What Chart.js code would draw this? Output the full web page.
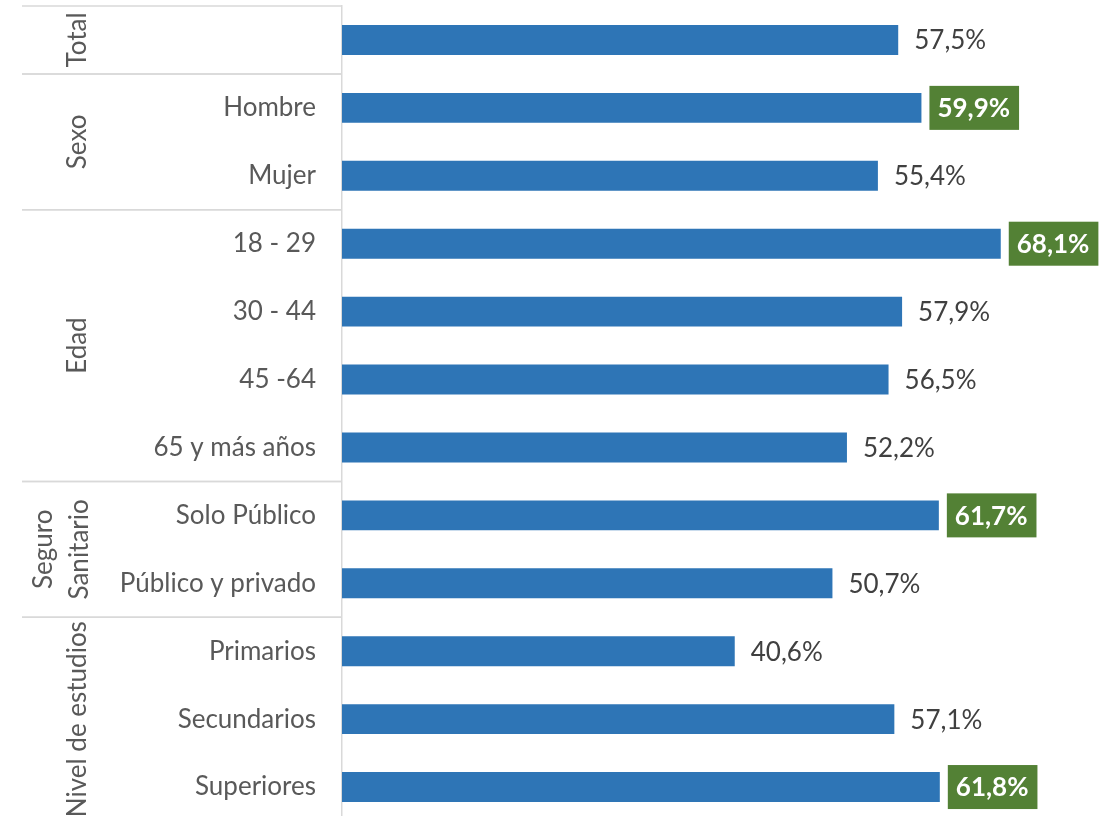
<!DOCTYPE html>
<html><head><meta charset="utf-8">
<script src="https://cdn.jsdelivr.net/npm/chart.js@4/dist/chart.umd.min.js"></script>
<style>html,body{margin:0;padding:0;overflow:hidden;background:#fff}canvas{display:block}</style>
</head><body>
<canvas id="c" width="1112" height="822"></canvas>
<script>
const categories = ["", "Hombre", "Mujer", "18 - 29", "30 - 44", "45 -64", "65 y más años", "Solo Público", "Público y privado", "Primarios", "Secundarios", "Superiores"];
const values = [57.5, 59.9, 55.4, 68.1, 57.9, 56.5, 52.2, 61.7, 50.7, 40.6, 57.1, 61.8];
const highlighted = [false, true, false, true, false, false, false, true, false, false, false, true];
const groupLabels = [["Total"], ["Sexo"], ["Edad"], ["Seguro", "Sanitario"], ["Nivel de estudios"]];
const groupStart = [0, 1, 3, 7, 9];
const groupEnd = [0, 2, 6, 8, 11];
const valueLabels = values.map(v => v.toFixed(1).replace('.', ',') + '%');

const FONT = 'Lato';
const grayLine = '#D9D9D9';

const groupPlugin = {
  id: 'groups',
  afterDraw(chart) {
    const ctx = chart.ctx;
    const ys = chart.scales.y;
    const area = chart.chartArea;
    const half = (ys.getPixelForValue(1) - ys.getPixelForValue(0)) / 2;
    ctx.save();
    ctx.strokeStyle = grayLine;
    ctx.lineWidth = 1.5;
    const lineX0 = 22, lineX1 = area.left;
    for (let g = 0; g < groupStart.length; g++) {
      const top = ys.getPixelForValue(groupStart[g]) - half;
      const bot = ys.getPixelForValue(groupEnd[g]) + half;
      ctx.beginPath(); ctx.moveTo(lineX0, top); ctx.lineTo(lineX1, top); ctx.stroke();
      ctx.beginPath(); ctx.moveTo(lineX0, bot); ctx.lineTo(lineX1, bot); ctx.stroke();
      const cy = (top + bot) / 2;
      const lines = groupLabels[g];
      ctx.save();
      ctx.font = `26px ${FONT}`;
      ctx.fillStyle = '#595959';
      ctx.textAlign = 'center';
      ctx.textBaseline = 'middle';
      lines.forEach((t, i) => {
        const x = (lines.length > 1) ? 44 + i * 36 : 78;
        ctx.save();
        ctx.translate(x, cy);
        ctx.rotate(-Math.PI / 2);
        ctx.fillText(t, 0, 0);
        ctx.restore();
      });
      ctx.restore();
    }
    ctx.restore();
  }
};

const labelPlugin = {
  id: 'vlabels',
  afterDatasetsDraw(chart) {
    const ctx = chart.ctx;
    const meta = chart.getDatasetMeta(0);
    ctx.save();
    ctx.textBaseline = 'middle';
    ctx.textAlign = 'left';
    meta.data.forEach((el, i) => {
      const x = el.x, y = el.y;
      const txt = valueLabels[i];
      if (highlighted[i]) {
        ctx.font = `bold 26px ${FONT}`;
        const w = ctx.measureText(txt).width;
        ctx.fillStyle = '#538135';
        ctx.fillRect(x + 8, y - 22, w + 17, 44);
        ctx.fillStyle = '#FFFFFF';
        ctx.fillText(txt, x + 16, y + 1);
      } else {
        ctx.font = `26px ${FONT}`;
        ctx.fillStyle = '#404040';
        ctx.fillText(txt, x + 16, y + 1);
      }
    });
    ctx.restore();
  }
};

new Chart(document.getElementById('c'), {
  type: 'bar',
  data: {
    labels: categories,
    datasets: [{
      data: values,
      backgroundColor: '#2E75B6',
      borderWidth: 0,
      categoryPercentage: 1.0,
      barPercentage: 0.44
    }]
  },
  options: {
    indexAxis: 'y',
    responsive: false,
    animation: false,
    devicePixelRatio: 1,
    layout: { padding: { left: 0, right: 0, top: 6, bottom: 1 } },
    plugins: { legend: { display: false }, tooltip: { enabled: false } },
    scales: {
      x: { display: false, min: 0, max: 79.6 },
      y: {
        afterFit(scale) { scale.width = 342; scale.paddingTop = 0; scale.paddingBottom = 0; },
        grid: { display: false, drawTicks: false },
        border: { display: true, color: grayLine, width: 1.5 },
        ticks: { padding: 26, color: '#595959', font: { family: FONT, size: 26 } }
      }
    }
  },
  plugins: [groupPlugin, labelPlugin]
});
</script>
</body></html>
